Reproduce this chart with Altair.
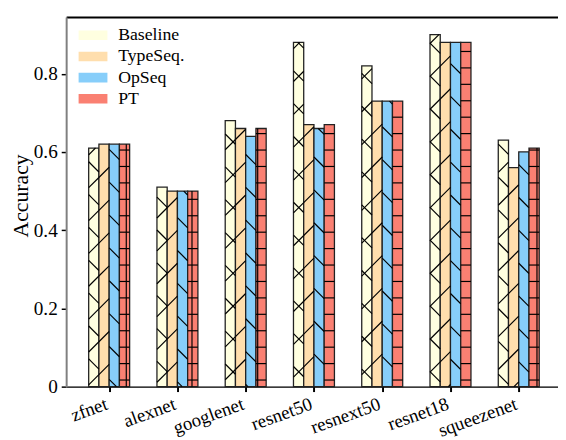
import json
import math
import altair as alt
import pandas as pd

# ---------------- data ----------------
categories = ["zfnet", "alexnet", "googlenet", "resnet50", "resnext50", "resnet18", "squeezenet"]
series = ["Baseline", "TypeSeq.", "OpSeq", "PT"]
baseline = [0.61, 0.51, 0.68, 0.88, 0.82, 0.90, 0.63]
typeseq = [0.62, 0.50, 0.66, 0.67, 0.73, 0.88, 0.56]
opseq = [0.62, 0.50, 0.64, 0.66, 0.73, 0.88, 0.60]
pt = [0.62, 0.50, 0.66, 0.67, 0.73, 0.88, 0.61]
y_ticks = [0, 0.2, 0.4, 0.6, 0.8]

colors = ["#FFFFE0", "#FFDEAD", "#87CEFA", "#FA8072"]
hatches = ["x", "/", "\\", "+"]
# legend swatches: 3x1 rectangle plus one hatch stroke
legend_shapes = [
    "M-1.5,-0.5H1.5V0.5H-1.5Z M-0.1,-0.5L0.9,0.5",
    "M-1.5,-0.5H1.5V0.5H-1.5Z M-0.45,0.5L0.55,-0.5",
    "M-1.5,-0.5H1.5V0.5H-1.5Z M0.4,-0.5L1.4,0.5",
    "M-1.5,-0.5H1.5V0.5H-1.5Z M0.15,-0.5V0.5",
]

BAR_W = 0.15
X_MIN, X_MAX = -0.63, 6.575
Y_MAX = 0.945
W, H = 499, 375
FONT = "Liberation Serif"

rows = []
for sidx, (name, vals) in enumerate(zip(series, [baseline, typeseq, opseq, pt])):
    for idx, (cat, v) in enumerate(zip(categories, vals)):
        rows.append({"category": cat, "idx": idx, "series": name, "sidx": sidx, "value": v})
df = pd.DataFrame(rows)

# ---------------- hatch segments (derived from the bar values) ----------------
PX_X = W / (X_MAX - X_MIN)
PX_Y = H / Y_MAX
SP_D = 100 / 3.0   # diagonal spacing, px
SP_O = 100 / 6.0   # orthogonal spacing, px
PH_NE, PH_SE, PH_H, PH_V = 12.3, 17.7, 6.7, 11.0

segs = []


def add(xa, ya, xb, yb):
    segs.append({"x": xa / PX_X + X_MIN, "x2": xb / PX_X + X_MIN,
                 "y": ya / PX_Y, "y2": yb / PX_Y})


for r in rows:
    hatch = hatches[r["sidx"]]
    xl = (r["idx"] + (r["sidx"] - 2) * BAR_W - X_MIN) * PX_X
    xr = xl + BAR_W * PX_X
    h = r["value"] * PX_Y
    if hatch in ("x", "/"):
        k0 = math.floor((-xr - PH_NE) / SP_D) - 1
        k1 = math.ceil((h - xl - PH_NE) / SP_D) + 1
        for k in range(k0, k1 + 1):
            c = PH_NE + k * SP_D
            lo, hi = max(xl, -c), min(xr, h - c)
            if hi - lo > 0.5:
                add(lo, lo + c, hi, hi + c)
    if hatch in ("x", "\\"):
        k0 = math.floor((xl - PH_SE) / SP_D) - 1
        k1 = math.ceil((xr + h - PH_SE) / SP_D) + 1
        for k in range(k0, k1 + 1):
            c = PH_SE + k * SP_D
            lo, hi = max(xl, c - h), min(xr, c)
            if hi - lo > 0.5:
                add(lo, c - lo, hi, c - hi)
    if hatch == "+":
        k = 0
        while PH_H + k * SP_O < h - 1:
            y = PH_H + k * SP_O
            if y > 1:
                add(xl, y, xr, y)
            k += 1
        k = 0
        while PH_V + k * SP_O < xr - 1:
            x = PH_V + k * SP_O
            if x > xl + 1:
                add(x, 0, x, h)
            k += 1
hatch_df = pd.DataFrame(segs)

# ---------------- chart ----------------
xscale = alt.Scale(domain=[X_MIN, X_MAX], nice=False, zero=False)
yscale = alt.Scale(domain=[0, Y_MAX], nice=False)
cscale = alt.Scale(domain=series, range=colors)
sscale = alt.Scale(domain=series, range=legend_shapes)

yaxis = alt.Axis(
    values=y_ticks, format="~g", grid=False,
    title="Accuracy", titleFont=FONT, titleFontSize=22, titleFontWeight="normal",
    titleColor="black", titleX=-46, titleY=181, titleAngle=270,
    titleAlign="center", titleBaseline="middle",
    domainColor="#808080", domainWidth=2,
    tickColor="black", tickWidth=1.5, tickSize=5,
    labelFont=FONT, labelFontSize=19.5, labelColor="black", labelPadding=4,
)

legend = alt.Legend(
    title=None, orient="none", legendX=16.75, legendY=8,
    labelFont=FONT, labelFontSize=18, labelFontWeight="normal", labelColor="black",
    symbolStrokeColor="#222222", symbolStrokeWidth=1.3,
)

base = alt.Chart(df).transform_calculate(
    x0=f"datum.idx + (datum.sidx - 2) * {BAR_W}",
).transform_calculate(
    x1=f"datum.x0 + {BAR_W}",
    xc=f"datum.x0 + {BAR_W / 2}",
)

bars = base.mark_rect(stroke="#222222", strokeWidth=1.3).encode(
    x=alt.X("x0:Q", scale=xscale, axis=alt.Axis(
        values=list(range(len(categories))),
        labelExpr=json.dumps(categories) + "[datum.value]",
        title=None, grid=False,
        domainColor="black", domainWidth=1.5,
        tickColor="black", tickWidth=2, tickSize=5,
        labelFont=FONT, labelFontSize=19, labelColor="black",
        labelAngle=-20, labelAlign="right", labelBaseline="top",
        labelPadding=3, labelOffset=-6,
        labelOverlap=False, labelFlush=False, labelBound=False,
    )),
    x2="x1:Q",
    y=alt.Y("value:Q", scale=yscale, axis=yaxis),
    y2=alt.datum(0),
    color=alt.Color("series:N", scale=cscale, legend=legend),
)

hatch_layer = alt.Chart(hatch_df).mark_rule(color="black", strokeWidth=1.2).encode(
    x=alt.X("x:Q", scale=xscale, axis=alt.Axis(
        orient="top", labels=False, ticks=False, title=None, grid=False,
        domainColor="black", domainWidth=2,
    )),
    x2="x2:Q",
    y=alt.Y("y:Q", scale=yscale, axis=yaxis),
    y2="y2:Q",
)

legend_pts = base.mark_point(filled=True, size=0, stroke="#222222", strokeWidth=1.3).encode(
    x=alt.X("xc:Q", scale=xscale, axis=None),
    y=alt.Y("value:Q", scale=yscale, axis=yaxis),
    color=alt.Color("series:N", scale=cscale, legend=legend),
    shape=alt.Shape("series:N", scale=sscale, legend=legend),
)

chart = alt.layer(bars, hatch_layer, legend_pts).resolve_axis(
    x="independent"
).properties(
    width=W, height=H,
    autosize=alt.AutoSizeParams(type="none"),
    padding={"left": 59, "top": 6, "right": 0, "bottom": 51},
).configure_view(stroke=None).configure(
    font=FONT, background="white"
).configure_legend(
    symbolSize=380, symbolStrokeColor="#222222", symbolStrokeWidth=1.3,
    symbolOpacity=1, labelFont=FONT, labelFontSize=18, labelColor="black",
    labelOffset=15, rowPadding=1.5, padding=0,
)

chart.save("out.html", embed_options={"renderer": "svg", "actions": False})
